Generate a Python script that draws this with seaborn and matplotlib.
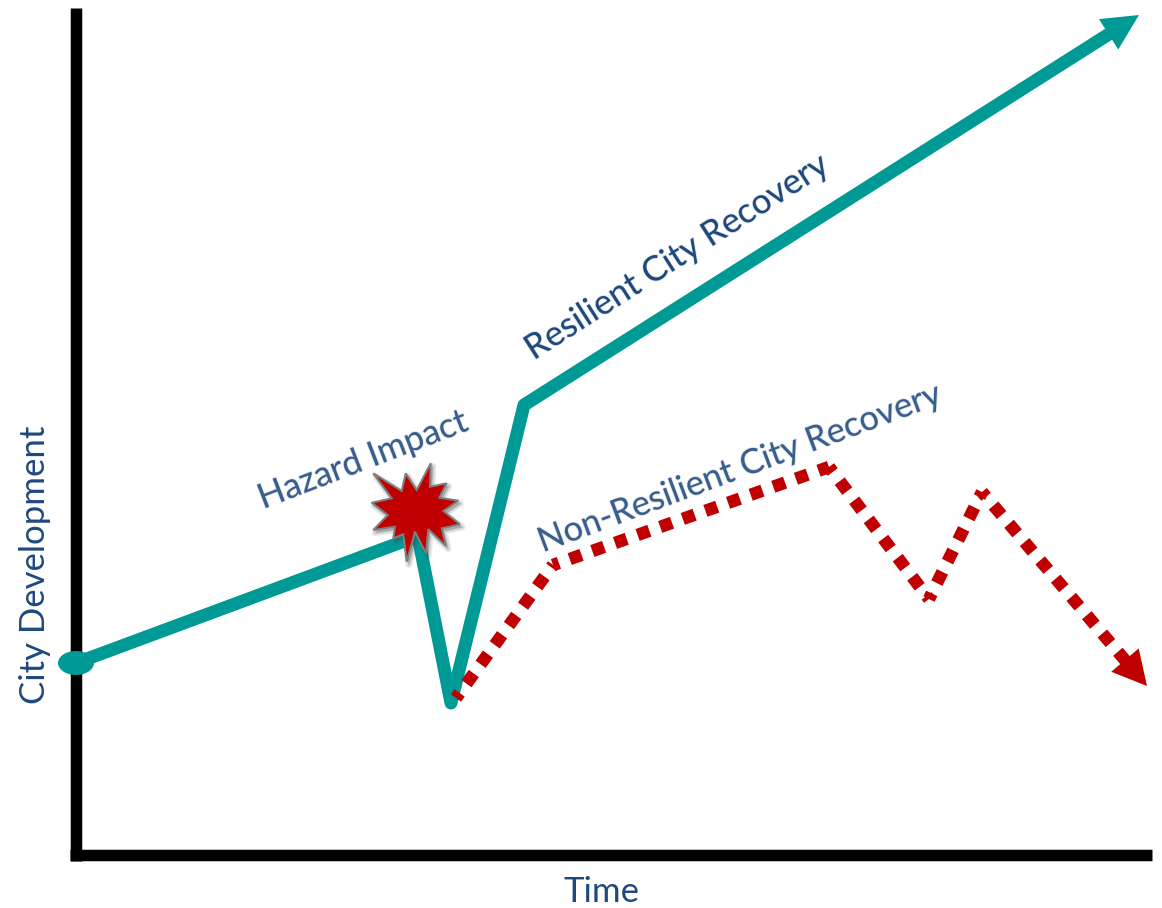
import numpy as np
import pandas as pd
import matplotlib
matplotlib.use("Agg")
import matplotlib.pyplot as plt
import matplotlib.patheffects as pe
from matplotlib.patches import Ellipse, Polygon
import seaborn as sns

# Conceptual curves: time and development measured from the axes origin
resilient_time = [0, 342, 375, 448, 1063]
resilient_dev = [192, 319, 152, 450, 840]
non_resilient_time = [380, 477, 753, 853, 906, 1071]
non_resilient_dev = [157, 290, 388, 256, 363, 169]
impact_point = (340, 347)

x_label = "Time"
y_label = "City Development"
resilient_label = "Resilient City Recovery"
non_resilient_label = "Non-Resilient City Recovery"
impact_label = "Hazard Impact"

TEAL = "#009A96"
RED = "#C00000"
NAVY = "#1F497D"
PX = 72 / 100  # points per pixel at this dpi

sns.set_theme(style="white")
plt.rcParams["font.family"] = ["Lato", "DejaVu Sans"]

fig = plt.figure(figsize=(11.62, 9.08), dpi=100)
ax = fig.add_axes([0, 0, 1, 1])
ax.set_xlim(-76, 1086)
ax.set_ylim(-53, 855)
ax.patch.set_alpha(0)


def arrow_head(xs, ys, length, width, color):
    """Triangle whose tip sits on the last point of a curve, aligned with its last segment."""
    tip = np.array([xs[-1], ys[-1]], float)
    d = tip - np.array([xs[-2], ys[-2]], float)
    d /= np.hypot(*d)
    n = np.array([-d[1], d[0]])
    base = tip - d * length
    ax.add_patch(Polygon([tip, base + n * width / 2, base - n * width / 2],
                         closed=True, fc=color, ec="none", zorder=4))


# Stop each curve short of its tip so the stroke stays hidden under the arrow head
def trimmed(xs, ys, back):
    xs, ys = list(map(float, xs)), list(map(float, ys))
    d = np.array([xs[-1] - xs[-2], ys[-1] - ys[-2]])
    d /= np.hypot(*d)
    xs[-1] -= d[0] * back
    ys[-1] -= d[1] * back
    return xs, ys


rx, ry = trimmed(resilient_time, resilient_dev, 20)
sns.lineplot(data=pd.DataFrame({"t": rx, "d": ry}), x="t", y="d", ax=ax, sort=False,
             estimator=None, color=TEAL, lw=13 * PX, zorder=3,
             solid_joinstyle="round", solid_capstyle="round")
arrow_head(resilient_time, resilient_dev, 36, 36, TEAL)

# Each leg of the declining curve is dashed on its own, so every corner carries one clean square
nx, ny = trimmed(non_resilient_time, non_resilient_dev, 18)
legs = pd.DataFrame({
    "t": np.concatenate([nx[i:i + 2] for i in range(len(nx) - 1)]),
    "d": np.concatenate([ny[i:i + 2] for i in range(len(ny) - 1)]),
    "leg": np.repeat(np.arange(len(nx) - 1), 2),
})
sns.lineplot(data=legs, x="t", y="d", units="leg", ax=ax, sort=False, estimator=None,
             color=RED, lw=12.5 * PX, zorder=3.5,
             linestyle=(0.5, (1, 0.92)), dash_capstyle="butt")
arrow_head(non_resilient_time, non_resilient_dev, 34, 36, RED)

# Starting point of the development curve
ax.add_patch(Ellipse((resilient_time[0], resilient_dev[0]), 36, 24, fc=TEAL, ec="none", zorder=3))

# Hazard burst: alternating outer and inner vertices around the impact point
burst_dx = [14.7, 14, 30.7, 23.3, 42.3, 27.3, 44, 25.7, 30, 12.3, 10, -1,
            -9.3, -12.7, -22.7, -21, -42.7, -28.3, -44.3, -24.3, -42.7, -14.3, -10.3, 0.7]
burst_dy = [44.7, 21.3, 24.7, 10.3, 7.3, -3, -16.3, -20.3, -38, -21.3, -45.3, -23.7,
            -53.7, -26.3, -30.3, -18.7, -22, -7, 5.3, 9.7, 34.7, 17, 34.7, 18]
soft_shadow = [pe.SimplePatchShadow(offset=(1.5, -2), shadow_rgbFace="#444444", alpha=0.1,
                                    linewidth=w, foreground="#444444", joinstyle="round")
               for w in (5, 3, 1.5)]
ax.add_patch(Polygon(np.column_stack([impact_point[0] + np.array(burst_dx),
                                      impact_point[1] + np.array(burst_dy)]),
                     closed=True, fc=RED, ec="#7F7F7F", lw=2 * PX, joinstyle="miter", zorder=5,
                     path_effects=soft_shadow + [pe.Normal()]))

# Axes drawn as heavy black spines meeting at the origin
for side in ("top", "right"):
    ax.spines[side].set_visible(False)
ax.spines["left"].set_position(("data", 0))
ax.spines["bottom"].set_position(("data", 0))
ax.spines["left"].set_bounds(-5.75, 847)
ax.spines["bottom"].set_bounds(-5.75, 1076)
for side in ("left", "bottom"):
    ax.spines[side].set_linewidth(11.5 * PX)
    ax.spines[side].set_color("black")
    ax.spines[side].set_capstyle("butt")
ax.set_xticks([])
ax.set_yticks([])

ax.set_xlabel(x_label, fontsize=25, color=NAVY)
ax.xaxis.set_label_coords(601 / 1162, 16 / 908, transform=ax.transAxes)
ax.xaxis.label.set_verticalalignment("center")
ax.set_ylabel(y_label, fontsize=25, color=NAVY)
ax.yaxis.set_label_coords(35 / 1162, 343 / 908, transform=ax.transAxes)
ax.yaxis.label.set_verticalalignment("center")

# Slanted captions carry a faint halo, which softens their edges
soft = [pe.withStroke(linewidth=1.2, foreground=NAVY, alpha=0.15)]
ax.text(601, 598, resilient_label, fontsize=25, color=NAVY, rotation=32.6,
        ha="center", va="center", rotation_mode="anchor", zorder=6, path_effects=soft)
ax.text(664, 387, non_resilient_label, fontsize=24.8, color=NAVY, alpha=0.85, rotation=20.5,
        ha="center", va="center", rotation_mode="anchor", zorder=1, path_effects=soft)
ax.text(287, 395, impact_label, fontsize=25, color=NAVY, alpha=0.85, rotation=21,
        ha="center", va="center", rotation_mode="anchor", zorder=1, path_effects=soft)

fig.savefig("out.png", dpi=100, facecolor="white")
